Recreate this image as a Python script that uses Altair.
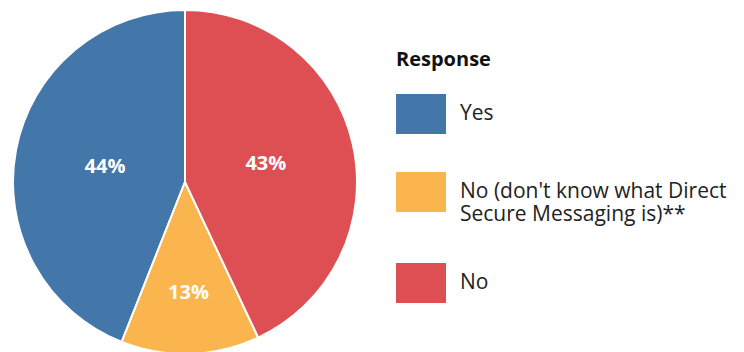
import altair as alt
import pandas as pd

categories = ["Yes", "No (don't know what Direct Secure Messaging is)**", "No"]
values = [44, 13, 43]
labels = ["44%", "13%", "43%"]
stack_order = [3, 2, 1]
colors = ["#4376A9", "#FBB54F", "#DE4F54"]

df = pd.DataFrame({"Response": categories, "value": values, "label": labels, "ord": stack_order})

FONT = "Open Sans"
CX, CY, R = 185, 182, 172

label_expr = (
    "datum.label == \"" + categories[1] + "\" ? "
    "['No (don\\'t know what Direct', 'Secure Messaging is)**'] : datum.label"
)

pie = alt.Chart(df).mark_arc(radius=R, stroke="white", strokeWidth=2).encode(
    theta=alt.Theta("value:Q", stack=True),
    order=alt.Order("ord:Q"),
    x=alt.value(CX),
    y=alt.value(CY),
    color=alt.Color(
        "Response:N",
        scale=alt.Scale(domain=categories, range=colors),
        legend=alt.Legend(
            title="Response",
            orient="none",
            legendX=396,
            legendY=50,
            symbolType="M-1,-0.8H1V0.8H-1Z",
            symbolSize=2500,
            symbolStrokeWidth=0,
            symbolOpacity=1,
            labelFontSize=21,
            labelFont=FONT,
            labelColor="#222222",
            labelLimit=400,
            labelOffset=14,
            labelExpr=label_expr,
            titleFontSize=20,
            titleFont=FONT,
            titleFontWeight="bold",
            titleColor="#111111",
            titlePadding=19,
            rowPadding=33,
        ),
    ),
)

# labels sit at the geometric centroid of each sector
text = (
    alt.Chart(df)
    .transform_window(cum="sum(value)", sort=[alt.SortField("ord")], frame=[None, 0])
    .transform_joinaggregate(total="sum(value)")
    .transform_calculate(
        mid="(datum.cum - datum.value / 2) / datum.total",
        half="PI * datum.value / datum.total",
    )
    .transform_calculate(lr=f"2 * {R} * sin(datum.half) / (3 * datum.half)")
    .mark_text(font=FONT, fontSize=20, fontWeight="bold", color="white")
    .encode(
        theta=alt.Theta("mid:Q", scale=alt.Scale(domain=[0, 1]), stack=None),
        radius=alt.Radius("lr:Q", scale=None),
        x=alt.value(CX),
        y=alt.value(CY),
        text="label:N",
    )
)

chart = (
    alt.layer(pie, text)
    .resolve_scale(theta="independent")
    .properties(width=744, height=352, autosize=alt.AutoSizeParams(type="none"), padding=0)
    .configure_view(stroke=None)
)

chart.save("out.html", embed_options={"renderer": "svg", "actions": False})
